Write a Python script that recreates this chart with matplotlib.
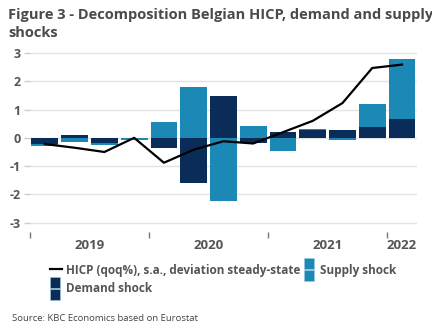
import numpy as np
import matplotlib.pyplot as plt
from matplotlib.patches import Rectangle
from matplotlib.container import BarContainer
from matplotlib.legend_handler import HandlerBase

plt.rcParams['font.family'] = ['Open Sans', 'DejaVu Sans']

quarters = ['2019Q1', '2019Q2', '2019Q3', '2019Q4', '2020Q1', '2020Q2', '2020Q3',
            '2020Q4', '2021Q1', '2021Q2', '2021Q3', '2021Q4', '2022Q1']
years = ['2019', '2020', '2021', '2022']
year_quarters = [4, 4, 4, 1]
demand = [-0.21, 0.10, -0.18, -0.01, -0.36, -1.60, 1.48, -0.17, 0.22, 0.28, 0.26, 0.37, 0.68]
supply = [-0.08, -0.13, -0.07, -0.07, 0.56, 1.79, -2.24, 0.43, -0.48, 0.03, -0.06, 0.83, 2.12]
hicp = [-0.22, -0.35, -0.50, 0.00, -0.88, -0.42, -0.12, -0.20, 0.20, 0.60, 1.23, 2.47, 2.59]

c_light = '#1b88b5'
c_dark = '#0a2c58'
c_text = '#555555'

demand = np.array(demand)
supply = np.array(supply)
x = np.arange(len(quarters))
# supply stacks on top of demand when same sign, otherwise starts from zero
base = np.where(np.sign(supply) == np.sign(demand), demand, 0)


class TwoSquares(HandlerBase):
    def create_artists(self, legend, orig, xd, yd, w, h, fs, trans):
        col = orig.patches[0].get_facecolor()
        s = 7.5
        r1 = Rectangle((xd, yd + h / 2 + 0.6), s, s, facecolor=col,
                       edgecolor='#9cc9dd', lw=0.4, transform=trans)
        r2 = Rectangle((xd, yd + h / 2 - s - 0.6), s, s, facecolor=col,
                       edgecolor='#9cc9dd', lw=0.4, transform=trans)
        return [r1, r2]


fig = plt.figure(figsize=(4.32, 3.34), dpi=100)
ax = fig.add_axes([0.0694, 0.3054, 0.8956, 0.5401])

ax.bar(x, demand, width=0.9, color=c_dark, zorder=2, label='Demand shock')
ax.bar(x, supply, width=0.9, bottom=base, color=c_light, zorder=2, label='Supply shock')
ax.plot(x, hicp, color='black', lw=1.6, zorder=3,
        label='HICP (qoq%), s.a., deviation steady-state')

ax.set_xlim(-0.5, len(quarters) - 0.5)
ax.set_ylim(-3.33, 3.05)
ax.set_yticks(range(-3, 4))
ax.set_yticklabels([str(v) for v in range(-3, 4)])
ax.grid(axis='y', color='#e3e3e3', lw=1, zorder=0)
for s in ax.spines.values():
    s.set_visible(False)

bounds = np.cumsum([0] + year_quarters) - 0.5
ax.set_xticks(bounds[:-1])
ax.set_xticklabels([])
ax.set_xticks((bounds[:-1] + bounds[1:]) / 2, minor=True)
ax.set_xticklabels(years, minor=True)
ax.tick_params(axis='x', which='major', length=4, width=1, color='#777777', direction='out')
ax.tick_params(axis='x', which='minor', length=0, pad=5, labelsize=9.5, labelcolor=c_text)
ax.tick_params(axis='y', length=4, width=1, color='#cccccc', labelsize=9, labelcolor=c_text, pad=3)
for lab in ax.get_yticklabels() + ax.get_xticklabels(minor=True):
    lab.set_fontweight('bold')

fig.text(0.019, 0.975, 'Figure 3 - Decomposition Belgian HICP, demand and supply\nshocks',
         fontsize=10.5, fontweight='bold', color='#4a4a4a', ha='left', va='top',
         linespacing=1.3)

h, l = ax.get_legend_handles_labels()
leg = fig.legend(h, l, ncol=2,
                 loc='upper left', bbox_to_anchor=(0.105, 0.225), frameon=False,
                 handlelength=1.0, handletextpad=0.35, columnspacing=0.3,
                 labelspacing=0.5, borderaxespad=0, fontsize=8.5,
                 handler_map={BarContainer: TwoSquares()})
for t in leg.get_texts():
    t.set_fontweight('bold')
    t.set_color(c_text)

fig.text(0.028, 0.04, 'Source: KBC Economics based on Eurostat', fontsize=6.8,
         color='#444444', ha='left')

fig.savefig('out.png', dpi=100)
